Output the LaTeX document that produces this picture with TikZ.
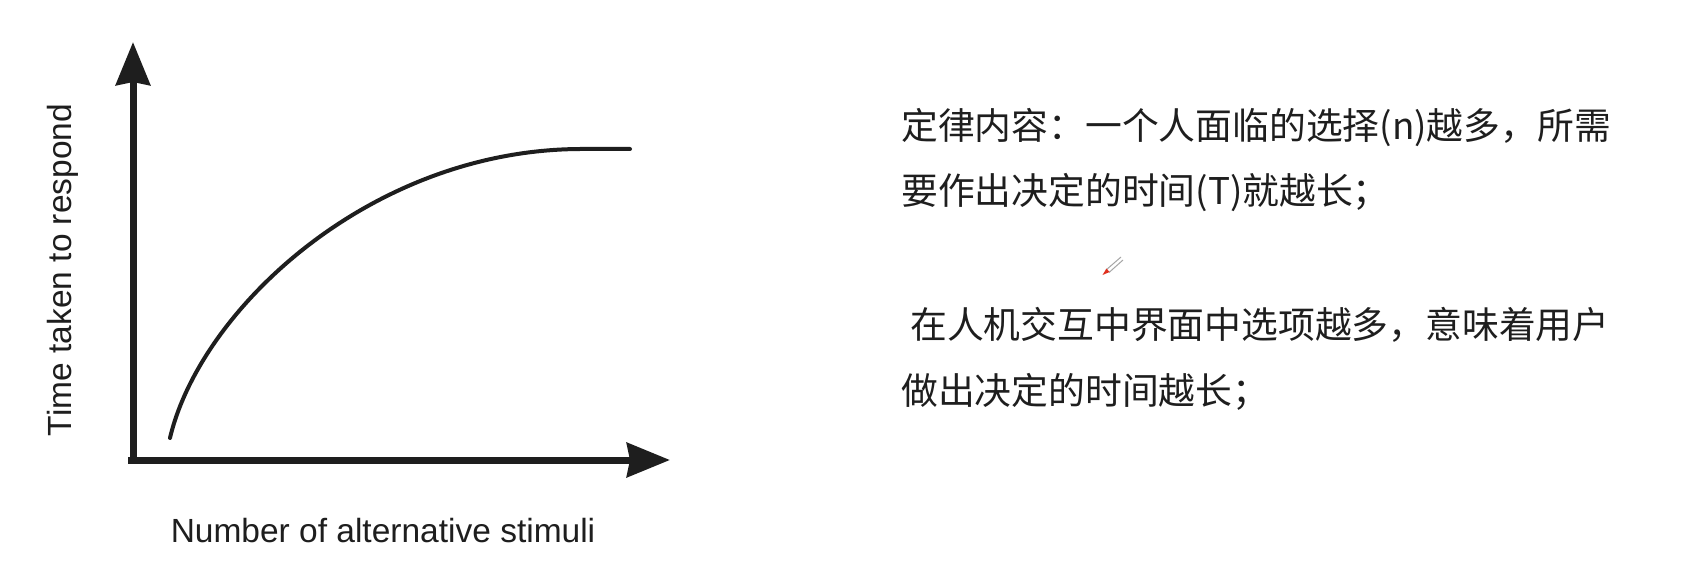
\documentclass[tikz,border=0pt]{standalone}
\usepackage{fontspec}
\setmainfont{Liberation Sans}
\newfontfamily\cjk{Noto Sans CJK SC}
\usetikzlibrary{arrows.meta}
\definecolor{ink}{HTML}{1E1E1E}
\definecolor{penred}{HTML}{E0301E}
\tikzset{
  axis/.style={line width=7pt, ink, -{Stealth[length=43pt,width=34pt,inset=3pt]}},
  curveline/.style={line width=4pt, ink},
  axlabel/.style={font=\fontsize{33.5}{40}\selectfont, text=ink, inner sep=0pt},
  cntext/.style={font=\cjk\fontsize{36.8}{44}\selectfont, text=ink, inner sep=0pt, anchor=west},
}
\begin{document}
\begin{tikzpicture}[x=1pt,y=-1pt]
\useasboundingbox[fill=white] (0,0) rectangle (1694,572);
% axes
\coordinate (O) at (133,460);
\coordinate (Ostart) at (128,460);
\coordinate (Ylow) at (133,463.5);
\coordinate (ytip) at (133,42);
\coordinate (xtip) at (670,460);
\draw[axis] (Ylow) -- (ytip);
\draw[axis] (Ostart) -- (xtip);
% curve
\coordinate (c0) at (170,438);
\coordinate (c3) at (580,149);
\coordinate (c4) at (630,149);
\draw[curveline, line cap=round] (c0) .. controls (200,310) and (370,150) .. (c3) -- (c4);
% axis labels
\node[axlabel, anchor=base] (xlab) at (383,542) {Number of alternative stimuli};
\node[axlabel, anchor=base, rotate=90] (ylab) at (71,270) {Time taken to respond};
% Chinese text
\node[cntext] (l1) at (901,128) {定律内容：一个人面临的选择(n)越多，所需};
\node[cntext] (l2) at (901,193) {要作出决定的时间(T)就越长；};
\node[cntext] (l3) at (910,325) {在人机交互中界面中选项越多，意味着用户};
\node[cntext] (l4) at (901,392) {做出决定的时间越长；};
% pen cursor
\coordinate (pa) at (1106,270);
\coordinate (pb) at (1121,257);
\draw[gray!70, line width=1pt] (pa) -- (pb);
\draw[gray!70, line width=1pt] (1109,272.5) -- (1123,260);
\fill[penred] (1102.5,275) -- (1106.5,268.5) -- (1109.5,272) -- cycle;
\end{tikzpicture}
\end{document}
